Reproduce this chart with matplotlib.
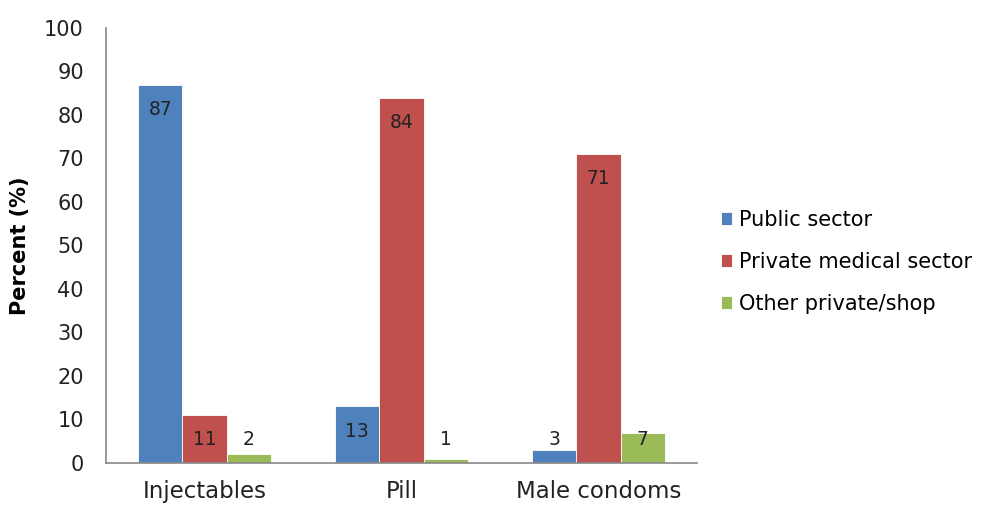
import matplotlib.pyplot as plt
import numpy as np

categories = ["Injectables", "Pill", "Male condoms"]
series_names = ["Public sector", "Private medical sector", "Other private/shop"]
public_sector = [87, 13, 3]
private_medical = [11, 84, 71]
other_private = [2, 1, 7]
y_ticks = [0, 10, 20, 30, 40, 50, 60, 70, 80, 90, 100]

colors = ["#4F81BD", "#C0504D", "#9BBB59"]

plt.rcParams['font.family'] = ['DejaVu Sans']

fig = plt.figure(figsize=(9.87, 5.05), dpi=100)
ax = fig.add_axes([0.1074, 0.0832, 0.5988, 0.8614])

x = np.arange(len(categories))
width = 0.225
all_series = [public_sector, private_medical, other_private]
for i, values in enumerate(all_series):
	pos = x + (i - 1) * width
	ax.bar(pos, values, width, color=colors[i], label=series_names[i],
		edgecolor="white", linewidth=0.6)
	for p, v in zip(pos, values):
		ly = max(v - 5.7, 5.3)
		ax.text(p, ly, str(v), ha="center", va="center", fontsize=13.5, color="#222222")

ax.set_xlim(-0.5, 2.5)
ax.set_ylim(0, 100)
ax.set_xticks(x)
ax.set_xticklabels(categories)
ax.set_yticks(y_ticks)
ax.tick_params(axis="y", length=0, labelsize=15, pad=16, labelcolor="#222222")
ax.tick_params(axis="x", length=0, labelsize=16.5, pad=12, labelcolor="#222222")
ax.set_ylabel("Percent (%)", fontsize=15, fontweight="bold", labelpad=10)

for side in ["top", "right"]:
	ax.spines[side].set_visible(False)
ax.spines["left"].set_color("#888888")
ax.spines["bottom"].set_color("#888888")
ax.spines["left"].set_linewidth(1.2)
ax.spines["bottom"].set_linewidth(1.2)

ax.legend(loc="center left", bbox_to_anchor=(1.04, 0.462), frameon=False,
	fontsize=15, handlelength=0.55, handleheight=0.55, handletextpad=0.35,
	labelspacing=1.05, borderaxespad=0, borderpad=0)

fig.savefig("out.png", dpi=100)
